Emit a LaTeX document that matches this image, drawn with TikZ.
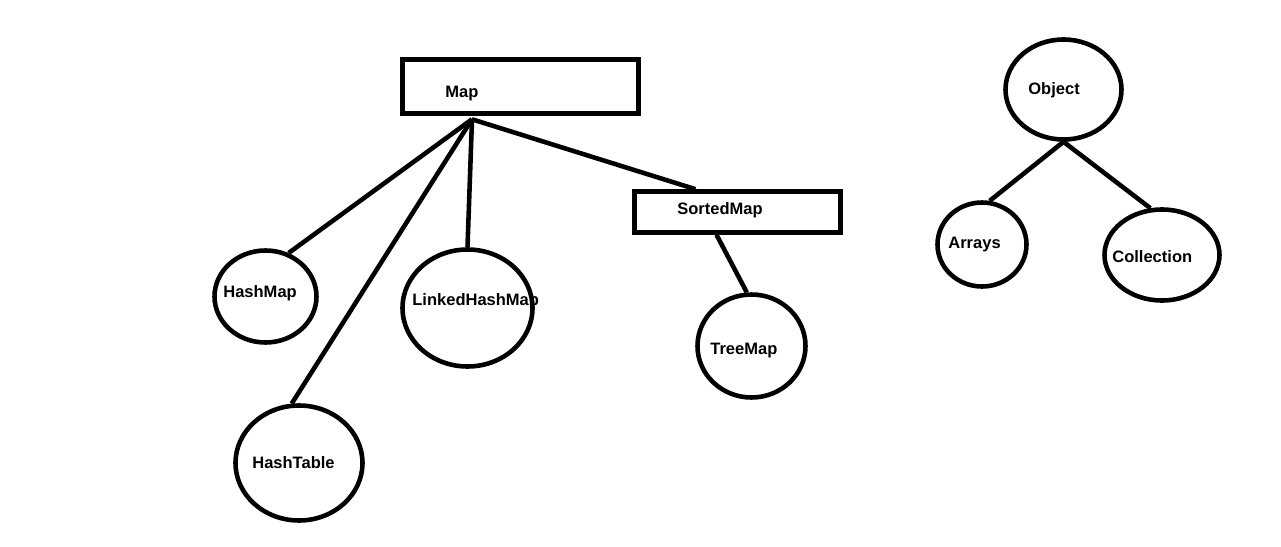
\documentclass[tikz,border=0pt]{standalone}
\usepackage{fontspec}
\setmainfont{Liberation Sans}
\usetikzlibrary{shapes.geometric}

\begin{document}
\begin{tikzpicture}[
box/.style={draw,line width=2.6pt,inner sep=0pt},
oval/.style={draw,ellipse,line width=2.6pt,inner sep=0pt},
lbl/.style={anchor=base west,inner sep=0pt,font={\fontsize{9.4}{11}\selectfont\bfseries}},
ln/.style={line width=2.6pt}]
\useasboundingbox (0,0) rectangle (25.62,-10.94);
% Map hierarchy
\node[box,minimum width=4.72cm,minimum height=1.08cm] (map) at (10.41,-1.73) {};
\node[box,minimum width=4.12cm,minimum height=0.82cm] (sorted) at (14.75,-4.24) {};
\node[oval,minimum width=2.04cm,minimum height=1.84cm] (hashmap) at (5.31,-5.93) {};
\node[oval,minimum width=2.6cm,minimum height=2.34cm] (linked) at (9.35,-6.16) {};
\node[oval,minimum width=2.54cm,minimum height=2.3cm] (hashtable) at (5.98,-9.26) {};
\node[oval,minimum width=2.16cm,minimum height=2.06cm] (treemap) at (15.03,-6.92) {};
% Object hierarchy
\node[oval,minimum width=2.32cm,minimum height=2cm] (object) at (21.27,-1.79) {};
\node[oval,minimum width=1.78cm,minimum height=1.68cm] (arrays) at (19.64,-4.89) {};
\node[oval,minimum width=2.3cm,minimum height=1.82cm] (collection) at (23.24,-5.1) {};
% labels
\node[lbl] (t-map) at (8.9,-1.94) {Map};
\node[lbl] (t-sorted) at (13.54,-4.28) {SortedMap};
\node[lbl] (t-hashmap) at (4.46,-5.94) {HashMap};
\node[lbl] (t-linked) at (8.24,-6.1) {LinkedHashMap};
\node[lbl] (t-hashtable) at (5.04,-9.36) {HashTable};
\node[lbl] (t-treemap) at (14.2,-7.08) {TreeMap};
\node[lbl] (t-object) at (20.56,-1.88) {Object};
\node[lbl] (t-arrays) at (18.96,-4.96) {Arrays};
\node[lbl] (t-collection) at (22.24,-5.24) {Collection};
% connectors
\coordinate (hub) at ([shift={(-0.97,-0.07)}]map.south);
\draw[ln] (hub) -- (hashmap.62);
\draw[ln] (hub) -- (hashtable.97);
\draw[ln] (hub) -- (linked.north);
\draw[ln] (hub) -- ([xshift=-0.84cm]sorted.north);
\draw[ln] ([xshift=-0.42cm]sorted.south) -- (treemap.95);
\draw[ln] (object.south) -- (arrays.80);
\draw[ln] (object.south) -- (collection.104);
\end{tikzpicture}
\end{document}
